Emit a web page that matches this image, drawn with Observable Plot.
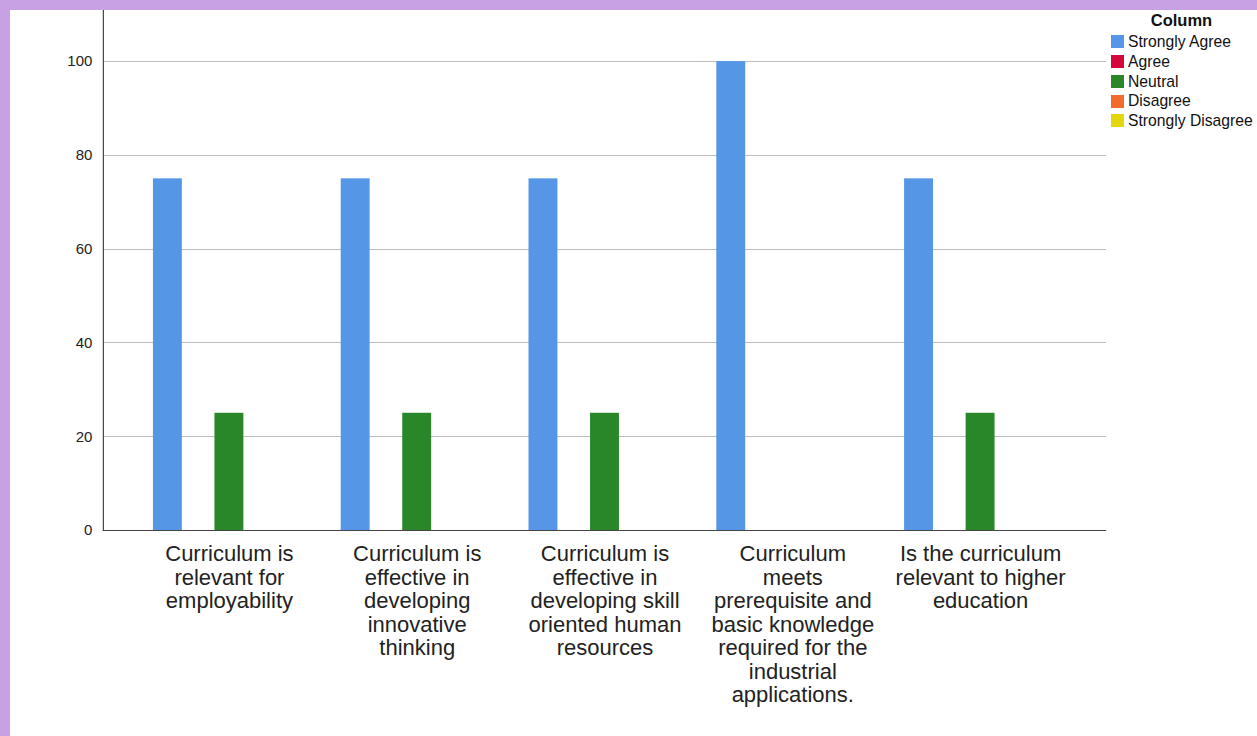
<!DOCTYPE html>
<html><head><meta charset="utf-8">
<script src="https://cdn.jsdelivr.net/npm/d3@7"></script>
<script src="https://cdn.jsdelivr.net/npm/@observablehq/plot@0.6"></script>
<style>
html,body{margin:0;padding:0;background:#c8a0e4;width:1257px;height:736px;overflow:hidden;}
#page{position:absolute;left:10px;top:10px;width:1247px;height:726px;background:#fff;overflow:hidden;font-family:"Liberation Sans",Arial,sans-serif;}
#chart{position:absolute;left:0;top:0;}
#legendTitle{position:absolute;left:1100px;top:1px;width:143px;text-align:center;font-weight:bold;font-size:16.5px;color:#111;}
#legend{position:absolute;left:1101px;top:22px;}
#legend > div > div{height:19.75px !important;line-height:19.75px !important;padding:0 !important;margin:0 !important;}
#legend svg{margin-right:4px !important;}
</style></head><body><div id="page"><div id="chart"></div><div id="legendTitle">Column</div><div id="legend"></div></div>
<script>
const questions = [
  "Curriculum is\nrelevant for\nemployability",
  "Curriculum is\neffective in\ndeveloping\ninnovative\nthinking",
  "Curriculum is\neffective in\ndeveloping skill\noriented human\nresources",
  "Curriculum\nmeets\nprerequisite and\nbasic knowledge\nrequired for the\nindustrial\napplications.",
  "Is the curriculum\nrelevant to higher\neducation"
];
const responses = ["Strongly Agree", "Agree", "Neutral", "Disagree", "Strongly Disagree"];
const colors = ["#5597e6", "#d5063b", "#2a8729", "#f26b2e", "#e3d50e"];
const stronglyAgree = [75, 75, 75, 100, 75];
const agree = [0, 0, 0, 0, 0];
const neutral = [25, 25, 25, 0, 25];
const disagree = [0, 0, 0, 0, 0];
const stronglyDisagree = [0, 0, 0, 0, 0];
const yTicks = [0, 20, 40, 60, 80, 100];

const series = [stronglyAgree, agree, neutral, disagree, stronglyDisagree];
const data = [];
questions.forEach((q, i) => responses.forEach((r, j) => data.push({question: q, response: r, value: series[j][i]})));

const outer = 48.2; // outer gap between frame edge and first/last facet band
const chart = Plot.plot({
  width: 1100, height: 726,
  marginLeft: 93, marginRight: 4, marginTop: 0, marginBottom: 206,
  style: {fontFamily: "'Liberation Sans', Arial, sans-serif", background: "white", color: "#222"},
  fx: {domain: questions, paddingInner: 0.171, paddingOuter: 0.256, round: false, label: null},
  x: {domain: responses, padding: 0.06, round: false, axis: null},
  y: {domain: [0, 110.9], label: null},
  color: {domain: responses, range: colors},
  marks: [
    Plot.ruleY(yTicks.slice(1), {stroke: "#bdbdbd", strokeWidth: 1, insetLeft: -outer, insetRight: -outer, shapeRendering: "crispEdges"}),
    Plot.barY(data, {fx: "question", x: "response", y: "value", fill: "response"}),
    Plot.axisY({ticks: yTicks, tickSize: 0, tickPadding: 11 + outer, fontSize: 15, fill: "#222", label: null}),
    Plot.axisFx({anchor: "bottom", tickSize: 0, tickPadding: 14, fontSize: 22, lineHeight: 1.07, label: null, fill: "#222"}),
    Plot.ruleY([0], {stroke: "#444", strokeWidth: 1.2, insetLeft: -outer, insetRight: -outer}),
    Plot.frame({anchor: "left", facetAnchor: "left", stroke: "#444", strokeWidth: 1.2, insetLeft: -outer})
  ]
});
document.getElementById("chart").appendChild(chart);

const legend = Plot.legend({
  color: {domain: responses, range: colors},
  legend: "swatches",
  columns: 1,
  swatchSize: 13,
  style: {fontSize: "15.7px", fontFamily: "'Liberation Sans', Arial, sans-serif", color: "#111", margin: "0"}
});
document.getElementById("legend").appendChild(legend);
</script>
</body></html>
